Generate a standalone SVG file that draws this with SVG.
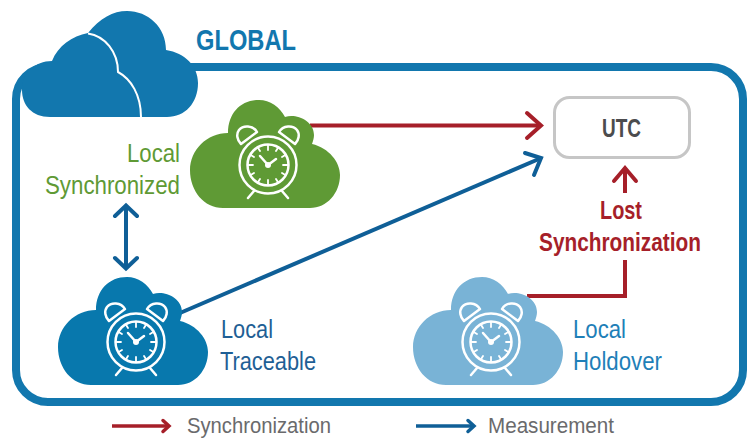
<svg xmlns="http://www.w3.org/2000/svg" width="747" height="438" viewBox="0 0 747 438">
<style>
text{font-family:"Liberation Sans",Arial,sans-serif}
.b{font-weight:bold}
.c{fill:none;stroke-width:4;stroke-linecap:butt;stroke-linejoin:miter}
.r{stroke:#a61f29}
.n{stroke:#0f5f97}
.h{fill:none;stroke-width:4;stroke-linecap:round;stroke-linejoin:miter}
.lg{stroke-width:3.5}
.w{fill:none;stroke:#fff;stroke-width:2.5;stroke-linecap:round;stroke-linejoin:round}
.t{fill:none;stroke:#fff;stroke-width:1.8;stroke-linecap:round}
</style>
<defs>
<path id="cloud" d="M-46 43C-65 43-79 26-79 5C-79-15-62-32-41-32C-41-52-28-65-10-65C1-65 11-58 16-48C26-52 45-45 45-30C45-27 44-24 43-21C60-17 71-3 71 10C71 28 58 43 41 43Z"/>
<g id="clock">
<circle class="w" r="28.5"/>
<circle class="w" r="20.5" stroke-width="2"/>
<path class="w" d="M-27-21L-11-33C-15-40-25-40-29-35C-32-31-31-25-27-21Z"/>
<path class="w" d="M27-21L11-33C15-40 25-40 29-35C32-31 31-25 27-21Z"/>
<path class="w" d="M-14 26L-20 33M14 26L20 33"/>
<path class="t" d="M0-20V-15M0 20V15M-20 0H-15M20 0H15M10-17.300L8-14M-10-17.300L-8-14M10 17.300L8 14M-10 17.300L-8 14M17.300-10L14-8M-17.300-10L-14-8M17.300 10L14 8M-17.300 10L-14 8"/>
<path class="w" d="M0 0L-8-9M0 0L8-6"/>
<circle r="3" fill="#fff"/>
</g>
</defs>

<g id="frame">
<rect x="16" y="67" width="727" height="335" rx="32" ry="32" fill="none" stroke="#1277ae" stroke-width="8"/>
</g>

<g id="connectors">
<path class="c r" d="M310 125.500H540"/>
<path class="h r" d="M527 113L541 125.500L527 138"/>
<path class="c n" d="M180 313L540 158.500"/>
<path class="h n" d="M525 153L541 158L534 175"/>
<path class="c n" d="M126 207V267"/>
<path class="h n" d="M115 216L126 205.500L137 216M115 258L126 268.500L137 258"/>
<path class="c r" d="M527 296H625V260"/>
<path class="c r" d="M625 193V169"/>
<path class="h r" d="M614 181L625 168L636 181"/>
</g>

<g id="global">
<path fill="#1277ae" d="M50 117C32 117 22 105 22 90C22 73 35 61 52 61C58 46 72 36 88 33C100 18 113 11 127 11C148 11 166 27 166 50C185 53 198 66 198 83C198 103 185 117 167 117Z"/>
<path fill="none" stroke="#fff" stroke-width="2" d="M88 33.500C105 36 118 52 118 72C131 79 141 95 141 117"/>
<text class="b" x="196" y="50" font-size="30" fill="#1277ae" textLength="100" lengthAdjust="spacingAndGlyphs">GLOBAL</text>
</g>

<g id="utc">
<rect x="554.500" y="97.500" width="135" height="60" rx="15" ry="15" fill="#fff" stroke="#c6c6c6" stroke-width="3"/>
<text class="b" x="602" y="137" font-size="26" fill="#4c4c4e" textLength="39" lengthAdjust="spacingAndGlyphs">UTC</text>
</g>

<g id="local-synchronized">
<use href="#cloud" x="269" y="165" fill="#5f9a35"/>
<use href="#clock" x="268" y="165"/>
<text x="127" y="162" font-size="25" fill="#5f9a35" textLength="53" lengthAdjust="spacingAndGlyphs">Local</text>
<text x="45" y="194" font-size="25" fill="#5f9a35" textLength="135" lengthAdjust="spacingAndGlyphs">Synchronized</text>
</g>

<g id="local-traceable">
<use href="#cloud" x="137" y="342" fill="#0878ad"/>
<use href="#clock" x="136" y="342"/>
<text x="221" y="338" font-size="25" fill="#1f5f95" textLength="52" lengthAdjust="spacingAndGlyphs">Local</text>
<text x="220" y="370" font-size="25" fill="#1f5f95" textLength="96" lengthAdjust="spacingAndGlyphs">Traceable</text>
</g>

<g id="local-holdover">
<use href="#cloud" x="492" y="342" fill="#79b3d6"/>
<use href="#clock" x="491" y="342"/>
<text x="573" y="338" font-size="25" fill="#1f7fb8" textLength="53" lengthAdjust="spacingAndGlyphs">Local</text>
<text x="573" y="370" font-size="25" fill="#1f7fb8" textLength="89" lengthAdjust="spacingAndGlyphs">Holdover</text>
</g>

<g id="lost-sync-label">
<text class="b" x="600" y="219" font-size="26" fill="#a61f29" textLength="42" lengthAdjust="spacingAndGlyphs">Lost</text>
<text class="b" x="539" y="251" font-size="26" fill="#a61f29" textLength="162" lengthAdjust="spacingAndGlyphs">Synchronization</text>
</g>

<g id="legend-synchronization">
<path class="c r lg" d="M112 426H168"/>
<path class="h r lg" d="M163 420.500L169 426L163 431.500"/>
<text x="187" y="433" font-size="22" fill="#6a6a6c" textLength="144" lengthAdjust="spacingAndGlyphs">Synchronization</text>
</g>

<g id="legend-measurement">
<path class="c n lg" d="M416 426H473"/>
<path class="h n lg" d="M468 420.500L474 426L468 431.500"/>
<text x="488" y="433" font-size="22" fill="#6a6a6c" textLength="126" lengthAdjust="spacingAndGlyphs">Measurement</text>
</g>
</svg>
